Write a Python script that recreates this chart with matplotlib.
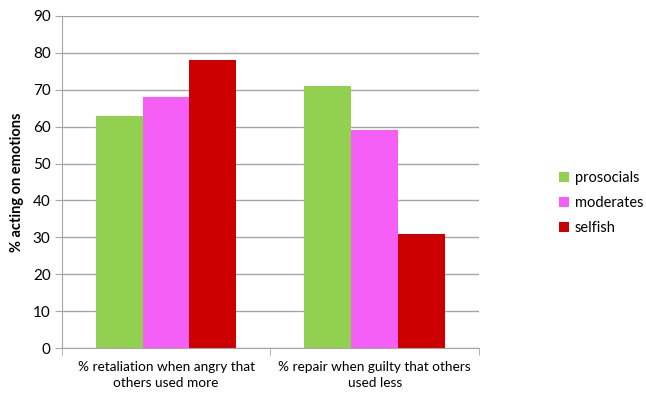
import matplotlib.pyplot as plt
import numpy as np

# data
categories = ["% retaliation when angry that\nothers used more",
              "% repair when guilty that others\nused less"]
series = ["prosocials", "moderates", "selfish"]
prosocials = [63, 71]
moderates = [68, 59]
selfish = [78, 31]
colors = ["#92d050", "#f55ff5", "#cc0000"]

plt.rcParams['font.family'] = ['Lato', 'DejaVu Sans']

fig = plt.figure(figsize=(6.46, 3.97), dpi=100)
ax = fig.add_axes([0.0955, 0.123, 0.646, 0.837])

x = np.arange(len(categories))
w = 0.225
for i, (vals, name) in enumerate(zip([prosocials, moderates, selfish], series)):
    ax.bar(x + (i - 1) * w, vals, w, color=colors[i], label=name, zorder=2)

ax.set_xlim(-0.5, 1.5)
ax.set_ylim(0, 90)
ax.set_yticks(range(0, 91, 10))
ax.yaxis.grid(True, color="#a6a6a6", lw=1, zorder=0)
ax.set_xticks([-0.5, 0.5, 1.5], minor=True)
ax.set_xticks(x)
ax.set_xticklabels(categories, fontsize=9.8, linespacing=1.45)
ax.tick_params(axis='x', which='major', length=0, pad=9)
ax.tick_params(axis='x', which='minor', length=5, color="#a6a6a6")
ax.tick_params(axis='y', length=5, color="#a6a6a6", labelsize=11, pad=3)
for s in ["top", "right"]:
    ax.spines[s].set_visible(False)
for s in ["left", "bottom"]:
    ax.spines[s].set_color("#a6a6a6")
ax.set_ylabel("% acting on emotions", fontsize=10.5, fontweight="bold", labelpad=6)

ax.legend(loc="center left", bbox_to_anchor=(1.16, 0.437), frameon=False,
          fontsize=10.5, handlelength=0.7, handleheight=0.7, handletextpad=0.4,
          labelspacing=0.75)

fig.savefig("out.png", dpi=100)
